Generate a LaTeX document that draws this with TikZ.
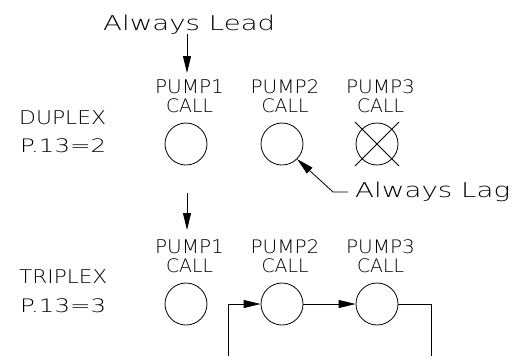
\documentclass[tikz,border=0pt]{standalone}
\usepackage{graphicx}
\usepackage{fontspec}
\setmainfont{DejaVu Sans ExtraLight}
\newcommand\capbox[2]{\resizebox{#1}{13.8pt}{#2}}
\newcommand\widebox[2]{\resizebox{#1}{15.5pt}{#2}}
\usetikzlibrary{arrows.meta,calc}
\begin{document}
\begin{tikzpicture}[x=1pt,y=-1pt,
  capstxt/.style={inner sep=0pt, anchor=base, font=\fontsize{20}{22}\selectfont},
  leftcaps/.style={capstxt, anchor=base west},
  widetxt/.style={inner sep=0pt, anchor=base west, font=\fontsize{20}{22}\selectfont},
  pumpcirc/.style={circle, draw, minimum size=42pt, inner sep=0pt, line width=0.8pt},
  arr/.style={-{Triangle[length=17pt,width=8pt]}, line width=0.8pt},
  wire/.style={line width=0.8pt}]
\useasboundingbox (0,0) rectangle (526,356);

% --- texts
\node[widetxt] (lead) at (103,30) {\widebox{172pt}{Always Lead}};
\node[widetxt] (lag) at (355,197) {\widebox{155pt}{Always Lag}};

\node[leftcaps] (dup) at (19,124) {\capbox{87pt}{DUPLEX}};
\node[leftcaps] (dupp) at (20,152) {\capbox{86pt}{P.13=2}};
\node[leftcaps] (tri) at (19,283) {\capbox{88pt}{TRIPLEX}};
\node[leftcaps] (trip) at (20,312) {\capbox{86pt}{P.13=3}};

\node[capstxt] (dp1) at (189.5,93) {\capbox{69pt}{PUMP1}};
\node[capstxt] (dc1) at (189.5,112) {\capbox{47pt}{CALL}};
\node[capstxt] (dp2) at (285,93) {\capbox{69pt}{PUMP2}};
\node[capstxt] (dc2) at (285,112) {\capbox{47pt}{CALL}};
\node[capstxt] (dp3) at (380.5,93) {\capbox{69pt}{PUMP3}};
\node[capstxt] (dc3) at (380.5,112) {\capbox{47pt}{CALL}};

\node[capstxt] (tp1) at (189.5,253) {\capbox{69pt}{PUMP1}};
\node[capstxt] (tc1) at (189.5,272) {\capbox{47pt}{CALL}};
\node[capstxt] (tp2) at (285,253) {\capbox{69pt}{PUMP2}};
\node[capstxt] (tc2) at (285,272) {\capbox{47pt}{CALL}};
\node[capstxt] (tp3) at (380.5,253) {\capbox{69pt}{PUMP3}};
\node[capstxt] (tc3) at (380.5,272) {\capbox{47pt}{CALL}};

% --- circles
\node[pumpcirc] (d1) at (186,144) {};
\node[pumpcirc] (d2) at (282,144) {};
\node[pumpcirc] (d3) at (377,144) {};
\node[pumpcirc] (t1) at (186,304) {};
\node[pumpcirc] (t2) at (282,304) {};
\node[pumpcirc] (t3) at (377,304) {};

% cross on pump 3 (duplex)
\draw[wire] ($(d3)+(-22,-22)$) -- ($(d3)+(22,22)$);
\draw[wire] ($(d3)+(22,-22)$) -- ($(d3)+(-22,22)$);

% --- arrows
\coordinate (leadend) at (187,34);
\draw[arr] (leadend) -- (187,73);
\coordinate (a2) at (187,193);
\draw[arr] (a2) -- (187,230);

\coordinate (lagk) at (333,192);
\coordinate (lagd) at (348,192);
\draw[arr] (lagd) -- (lagk) -- (d2.-45);

% --- triplex loop
\coordinate (bl) at (228,356);
\coordinate (br) at (431,356);
\draw[arr] (bl) |- (t2.west);
\draw[arr] (t2.east) -- (t3.west);
\draw[wire] (t3.east) -| (br);
\end{tikzpicture}
\end{document}
